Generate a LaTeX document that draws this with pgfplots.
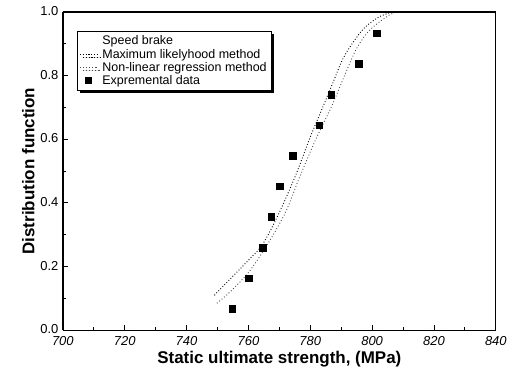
\documentclass[border=0pt]{standalone}
\usepackage{pgfplots}
\pgfplotsset{compat=1.18}
\usepackage{fontspec}
\setmainfont{Liberation Sans}
\usetikzlibrary{shadows,calc}
\begin{document}
\begin{tikzpicture}[x=1pt,y=1pt]
\begin{axis}[
  scale only axis,
  width=434pt, height=319pt,
  xmin=700, xmax=840, ymin=0, ymax=1,
  xtick={700,720,...,840},
  ytick={0,0.2,...,1.0},
  minor xtick={710,730,...,830},
  minor ytick={0.1,0.3,...,0.9},
  axis x line*=bottom, axis y line*=left,
  x axis line style={-, line width=1.3pt},
  y axis line style={-, line width=1.3pt},
  tick style={black, line width=0.9pt},
  major tick length=5pt, minor tick length=3pt,
  tick align=inside,
  /pgf/number format/assume math mode=true,
  xticklabel style={font=\fontsize{13}{14}\selectfont\itshape, yshift=-3pt},
  yticklabel style={font=\fontsize{13}{14}\selectfont, xshift=-1pt, yshift=1pt, /pgf/number format/.cd, fixed, fixed zerofill, precision=1},
  xlabel={\textbf{Static ultimate strength, (MPa)}},
  ylabel={\textbf{Distribution function}},
  label style={font=\fontsize{17}{19}\selectfont},
  xlabel style={yshift=2pt},
  ylabel style={yshift=-1pt},
  legend style={at={(0.032,0.94)}, anchor=north west, draw=black, line width=0.8pt, fill=white,
    font=\fontsize{12.5}{14}\selectfont, row sep=-1.5pt, inner sep=2.5pt,
    drop shadow={shadow xshift=3pt, shadow yshift=-3pt, fill=black, opacity=1},
    legend cell align=left},
  legend image post style={line width=0.8pt},
]
\addlegendimage{empty legend}
\addlegendentry{\hspace{3pt}Speed brake\hspace{6pt}}
\addplot[black, dotted, line width=0.9pt, smooth] coordinates {
(749,0.11) (752,0.14) (756,0.18) (760,0.22) (764.6,0.27) (770,0.37)
(775.4,0.49) (779.7,0.60) (784,0.70) (787,0.77) (790.4,0.85) (793.5,0.90)
(797,0.945) (800,0.97) (803,0.988) (807,1.0) (812,1.0)};
\addlegendentry{\hspace{3pt}Maximum likelyhood method}
\addplot[black!70, dash pattern=on 0.9pt off 2.2pt, line width=0.9pt, smooth] coordinates {
(749.8,0.085) (754,0.12) (760.3,0.185) (766.8,0.28) (772.2,0.375) (776.5,0.48)
(781.8,0.60) (787.2,0.71) (791.5,0.81) (794.7,0.88) (798,0.93) (801.2,0.96)
(805.5,0.99) (808,1.0) (812,1.0)};
\addlegendentry{\hspace{3pt}Non-linear regression method\hspace{6pt}}
\addplot[only marks, mark=square*, mark size=3.3pt, black] coordinates {
(754.7,0.067) (760.0,0.163) (764.7,0.260) (767.4,0.356) (770.1,0.452)
(774.3,0.548) (782.9,0.644) (786.8,0.740) (795.7,0.837) (801.5,0.933)};
\addlegendentry{\hspace{3pt}Expremental data}
\draw[line width=1.3pt] (rel axis cs:0,1) -- (rel axis cs:1,1) -- (rel axis cs:1,0);
\end{axis}
\path ($(current axis.south west)+(-63pt,-49pt)$) rectangle ($(current axis.north east)+(13pt,12pt)$);
\end{tikzpicture}
\end{document}
